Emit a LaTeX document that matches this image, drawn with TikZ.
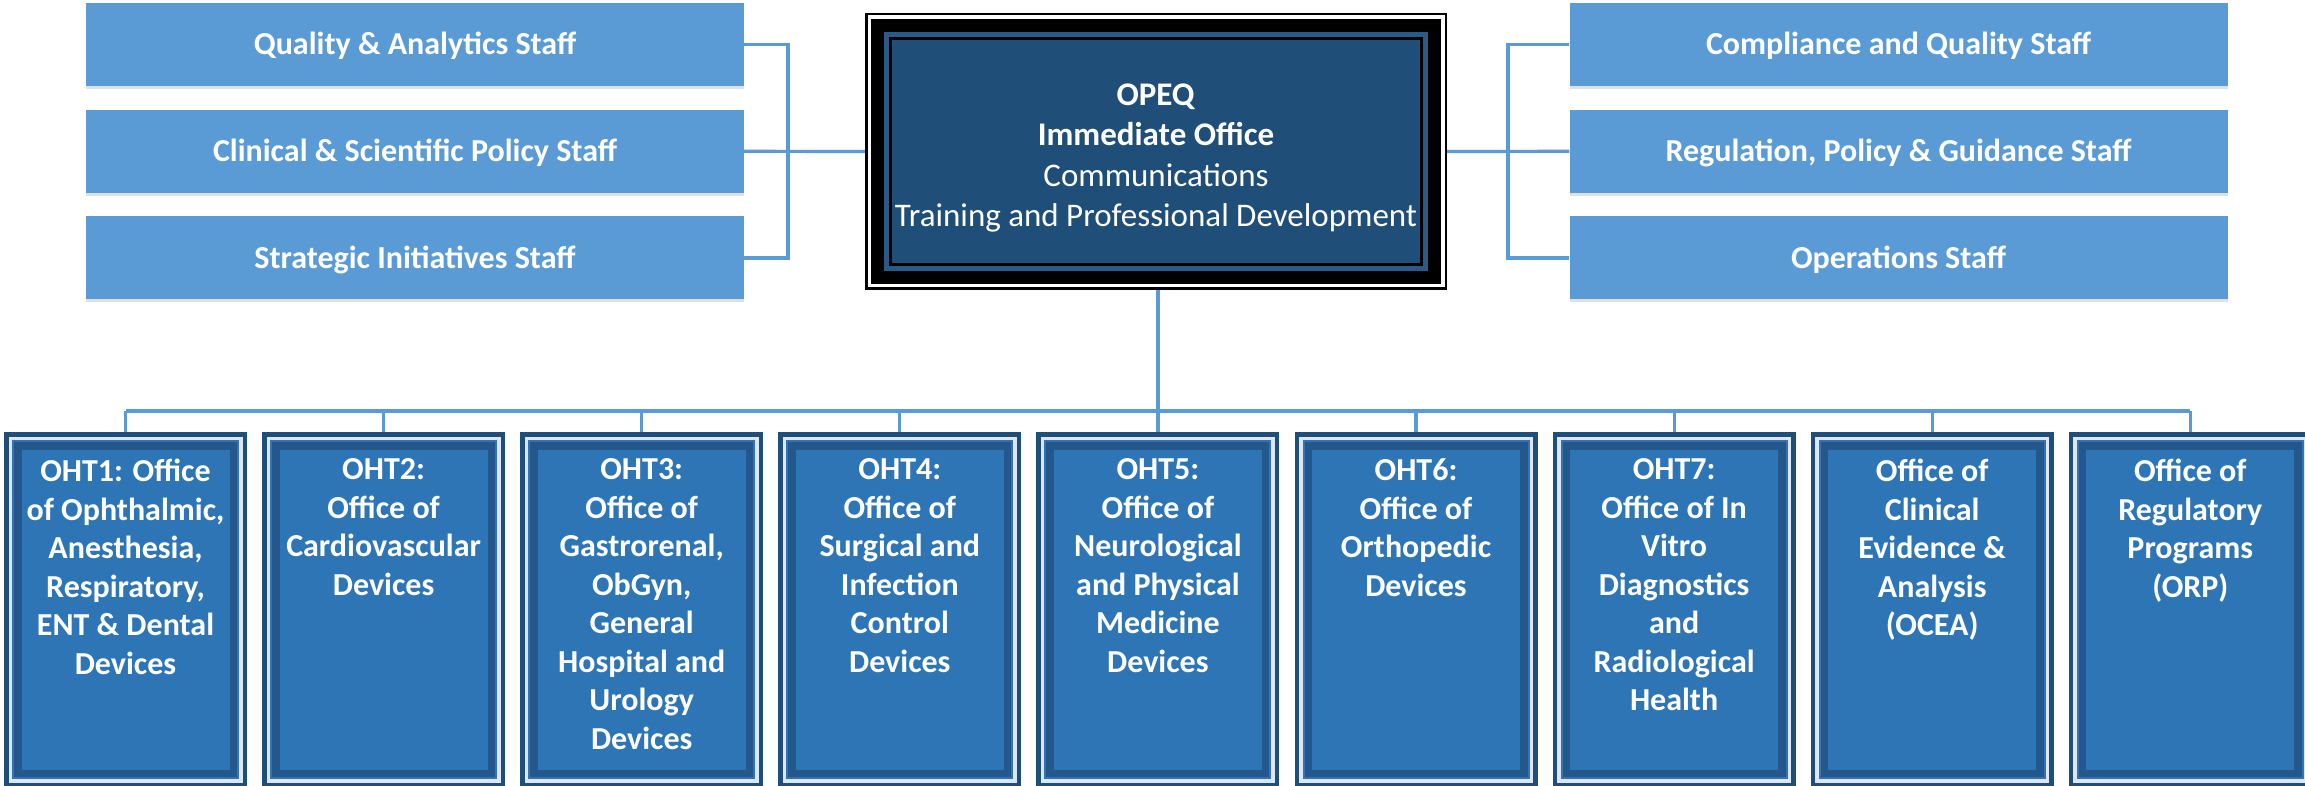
\documentclass[tikz,border=0pt]{standalone}
\usepackage{fontspec}
\setmainfont{Carlito}
\usetikzlibrary{calc,shadows}

\definecolor{linkblue}{HTML}{5B9BD5}
\definecolor{staffblue}{HTML}{5B9BD5}
\definecolor{navy}{HTML}{1F4E79}
\definecolor{navyband}{HTML}{2A5A88}
\definecolor{ohtfill}{HTML}{2E75B6}
\definecolor{ohtdark}{HTML}{1F4E79}
\definecolor{ohtband}{HTML}{24578B}
\definecolor{ohtmid}{HTML}{3373B3}
\definecolor{ohtlight}{HTML}{DCE7F3}

% fill an inset rectangle inside the current node (used in path pictures)
\newcommand\layerfill[2]{%
  \fill[#1] ($(path picture bounding box.north west)+(#2,#2)$)
    rectangle ($(path picture bounding box.south east)+(-#2,-#2)$);}

\tikzset{
  link/.style={draw=linkblue, line width=3.2pt},
  staffbox/.style={fill=staffblue, minimum width=658pt, minimum height=83pt,
    inner sep=0pt, text=white, font=\fontsize{32}{38.5}\selectfont\bfseries,
    text height=25pt, text depth=4.5pt,
    drop shadow={shadow xshift=0pt, shadow yshift=-3pt, opacity=0.12, fill=black}},
  officebox/.style={fill=black, minimum width=582pt, minimum height=277pt, inner sep=0pt,
    path picture={\layerfill{white}{2.5}\layerfill{black}{6}\layerfill{navyband}{19}%
      \layerfill{black}{24}\layerfill{navy}{27}}},
  officetext/.style={align=center, inner sep=0pt, text=white,
    font=\fontsize{33}{40.5}\selectfont},
  ohtbox/.style={fill=ohtdark, minimum width=243pt, minimum height=355pt, inner sep=0pt,
    path picture={\layerfill{ohtlight}{4.5}\layerfill{ohtmid}{8}\layerfill{ohtband}{10}%
      \layerfill{ohtfill}{17.5}}},
  ohttext/.style={anchor=north, inner sep=0pt, align=center, text=white,
    font=\fontsize{32}{38.5}\selectfont\bfseries, execute at begin node=\strut},
}

\begin{document}
\begin{tikzpicture}[x=1pt, y=-1pt]
\fill[white] (0,0) rectangle (2305,786);
\useasboundingbox (0,0) rectangle (2305,786);

% staff offices beside the immediate office
\node[staffbox] (L1) at (415,44.7) {Quality \& Analytics Staff};
\node[staffbox] (L2) at (415,151.3) {Clinical \& Scientific Policy Staff};
\node[staffbox] (L3) at (415,258) {Strategic Initiatives Staff};
\node[staffbox] (R1) at (1898.5,44.7) {Compliance and Quality Staff};
\node[staffbox] (R2) at (1898.5,151.3) {Regulation, Policy \& Guidance Staff};
\node[staffbox] (R3) at (1898.5,258) {Operations Staff};

% immediate office
\node[officebox] (center) at (1156,151.5) {};
\node[officetext] (ctext) at (1156,158) {\textbf{OPEQ}\\\textbf{Immediate Office}\\Communications\\Training and Professional Development};

% bottom row of offices
\foreach \i in {1,...,9} {
  \node[ohtbox] (b\i) at ({125.5+(\i-1)*258.1},609.5) {};
}
\node[ohttext] (t1) at ($(b1.north)+(0,27)$) {OHT1: Office\\of Ophthalmic,\\Anesthesia,\\Respiratory,\\ENT \& Dental\\Devices};
\node[ohttext] (t2) at ($(b2.north)+(0,27)$) {OHT2:\\Office of\\Cardiovascular\\Devices};
\node[ohttext] (t3) at ($(b3.north)+(0,27)$) {OHT3:\\Office of\\Gastrorenal,\\ObGyn,\\General\\Hospital and\\Urology\\Devices};
\node[ohttext] (t4) at ($(b4.north)+(0,27)$) {OHT4:\\Office of\\Surgical and\\Infection\\Control\\Devices};
\node[ohttext] (t5) at ($(b5.north)+(0,27)$) {OHT5:\\Office of\\Neurological\\and Physical\\Medicine\\Devices};
\node[ohttext] (t6) at ($(b6.north)+(0,27)$) {OHT6:\\Office of\\Orthopedic\\Devices};
\node[ohttext] (t7) at ($(b7.north)+(0,27)$) {OHT7:\\Office of In\\Vitro\\Diagnostics\\and\\Radiological\\Health};
\node[ohttext] (t8) at ($(b8.north)+(0,27)$) {Office of\\Clinical\\Evidence \&\\Analysis\\(OCEA)};
\node[ohttext] (t9) at ($(b9.north)+(0,27)$) {Office of\\Regulatory\\Programs\\(ORP)};

% connectors
\coordinate (lbr) at (788,0);
\coordinate (rbr) at (1508,0);
\coordinate (bus) at (1158,411);
\draw[link] (L1.east) -- (L1.east -| lbr) -- (L3.east -| lbr) -- (L3.east);
\draw[link] (L2.east) -- (center.west);
\draw[link] (R1.west) -- (R1.west -| rbr) -- (R3.west -| rbr) -- (R3.west);
\draw[link] (center.east) -- (R2.west);
\draw[link] (center.south -| bus) -- (bus);
\draw[link] (bus -| b1.north) -- (bus -| b9.north);
\foreach \i in {1,...,9} {
  \draw[link] (bus -| b\i.north) -- (b\i.north);
}
\end{tikzpicture}
\end{document}
